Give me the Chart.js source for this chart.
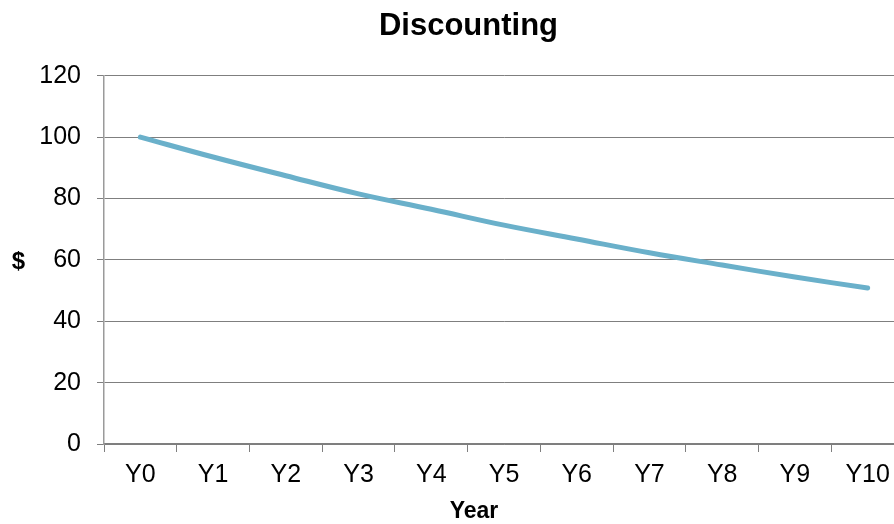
<!DOCTYPE html>
<html>
<head>
<meta charset="utf-8">
<title>Discounting</title>
<script src="https://cdn.jsdelivr.net/npm/chart.js@4/dist/chart.umd.min.js"></script>
<style>
    html, body { margin: 0; padding: 0; overflow: hidden; background: #fff; }
    #wrap { width: 910px; height: 524px; position: relative; }
</style>
</head>
<body>
<div id="wrap"><canvas id="discountChart"></canvas></div>
<script>
// chart data
const years = ['Y0', 'Y1', 'Y2', 'Y3', 'Y4', 'Y5', 'Y6', 'Y7', 'Y8', 'Y9', 'Y10'];
const presentValue = [100, 93.5, 87.4, 81.5, 76.5, 71.3, 66.8, 62.3, 58.3, 54.4, 50.8];
const yTicks = [0, 20, 40, 60, 80, 100, 120];

const fontFamily = '"Liberation Sans", Arial, sans-serif';
const gridGrey = '#7f7f7f';

//axis titles drawn upright like the excel original
const axisTitles = {
    id: 'axisTitles',
    afterDraw(chart) {
        const ctx = chart.ctx;
        ctx.save();
        ctx.fillStyle = '#000';
        ctx.textAlign = 'center';
        ctx.textBaseline = 'middle';
        ctx.font = 'bold 24px ' + fontFamily;
        ctx.fillText('$', 18.5, 262);
        ctx.font = 'bold 23px ' + fontFamily;
        ctx.fillText('Year', 474, 512);
        ctx.restore();
    }
};

document.addEventListener('DOMContentLoaded', function () {
    const ctx = document.getElementById('discountChart').getContext('2d');
    new Chart(ctx, {
        type: 'line',
        data: {
            labels: years,
            datasets: [{
                label: 'Present value',
                data: presentValue,
                borderColor: 'rgb(106, 176, 202)',
                borderWidth: 5,
                borderCapStyle: 'round',
                borderJoinStyle: 'round',
                pointRadius: 0,
                tension: 0.4,
                fill: false
            }]
        },
        options: {
            responsive: true,
            maintainAspectRatio: false,
            animation: false,
            layout: {
                padding: { left: 33, right: 6, top: 0, bottom: 0 }
            },
            plugins: {
                legend: { display: false },
                tooltip: { enabled: false },
                title: {
                    display: true,
                    text: 'Discounting',
                    color: '#000',
                    font: { family: fontFamily, size: 31, weight: 'bold' },
                    padding: { top: 8, bottom: 30.5 }
                }
            },
            scales: {
                x: {
                    offset: true,
                    afterFit: function (scale) { scale.height = 80; },
                    grid: {
                        offset: true,
                        drawOnChartArea: false,
                        drawTicks: true,
                        tickLength: 8,
                        color: gridGrey
                    },
                    border: { display: true, color: gridGrey, width: 1.5 },
                    ticks: {
                        color: '#000',
                        padding: 8,
                        maxRotation: 0,
                        font: { family: fontFamily, size: 25 }
                    }
                },
                y: {
                    min: 0,
                    max: 120,
                    afterFit: function (scale) { scale.width = 71; },
                    afterBuildTicks: function (scale) {
                        scale.ticks = yTicks.map(v => ({ value: v }));
                    },
                    grid: {
                        drawTicks: true,
                        tickLength: 7,
                        color: gridGrey,
                        lineWidth: 1
                    },
                    border: { display: true, color: '#9a9a9a', width: 1.5 },
                    ticks: {
                        color: '#000',
                        padding: 16,
                        font: { family: fontFamily, size: 25 }
                    }
                }
            }
        },
        plugins: [axisTitles]
    });
});
</script>
</body>
</html>
